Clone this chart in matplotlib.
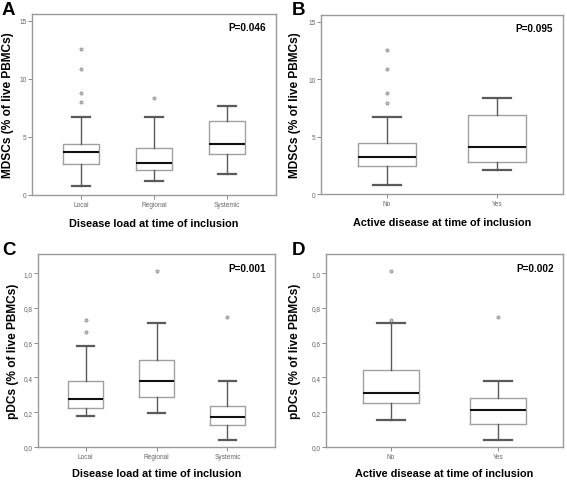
import matplotlib
matplotlib.use("Agg")
import matplotlib.pyplot as plt
from matplotlib import font_manager
from matplotlib.ticker import FuncFormatter

plt.rcParams['font.family'] = ['Liberation Sans', 'DejaVu Sans']

# valeurs (min, Q1, mediane, Q3, max, outliers)
load_groups = ["Local", "Regional", "Systemic"]
active_groups = ["No", "Yes"]

mdsc_load_whislo = [0.77, 1.17, 1.80]
mdsc_load_q1 = [2.66, 2.17, 3.54]
mdsc_load_med = [3.71, 2.77, 4.37]
mdsc_load_q3 = [4.43, 4.06, 6.34]
mdsc_load_whishi = [6.69, 6.71, 7.66]
mdsc_load_fliers = [[8.0, 8.77, 10.89, 12.6], [8.4], []]

mdsc_active_whislo = [0.78, 2.08]
mdsc_active_q1 = [2.42, 2.83]
mdsc_active_med = [3.20, 4.13]
mdsc_active_q3 = [4.41, 6.89]
mdsc_active_whishi = [6.69, 8.39]
mdsc_active_fliers = [[7.96, 8.77, 10.87, 12.55], []]

pdc_load_whislo = [0.180, 0.197, 0.038]
pdc_load_q1 = [0.222, 0.287, 0.126]
pdc_load_med = [0.277, 0.379, 0.172]
pdc_load_q3 = [0.379, 0.503, 0.235]
pdc_load_whishi = [0.583, 0.711, 0.379]
pdc_load_fliers = [[0.662, 0.730], [1.01], [0.75]]

pdc_active_whislo = [0.155, 0.038]
pdc_active_q1 = [0.252, 0.132]
pdc_active_med = [0.310, 0.212]
pdc_active_q3 = [0.440, 0.279]
pdc_active_whishi = [0.711, 0.379]
pdc_active_fliers = [[0.730, 1.01], [0.75]]

p_values = ["P=0.046", "P=0.095", "P=0.001", "P=0.002"]
xlabel_load = "Disease load at time of inclusion"
xlabel_active = "Active disease at time of inclusion"
ylabel_mdsc = "MDSCs (% of live PBMCs)"
ylabel_pdc = "pDCs (% of live PBMCs)"

# l'image d'origine est etiree verticalement : police etroite pour les titres x
font_names = {f.name for f in font_manager.fontManager.ttflist}
if 'Liberation Sans Narrow' in font_names:
    xlab_family, xlab_size = 'Liberation Sans Narrow', 9.4
else:
    xlab_family, xlab_size = 'Liberation Sans', 7.8

W, H = 567, 481
fig = plt.figure(figsize=(W / 100, H / 100), dpi=100)


def make_ax(left, top, right, bottom):
    return fig.add_axes([left / W, 1 - bottom / H, (right - left) / W, (bottom - top) / H])


def stats(labels, lo, q1, med, q3, hi, fl):
    out = []
    for i in range(len(labels)):
        out.append(dict(label=labels[i], whislo=lo[i], q1=q1[i], med=med[i],
                        q3=q3[i], whishi=hi[i], fliers=fl[i]))
    return out


def panel(ax, st, xlim, ylim, yticks, fmt, width, xlabel, ylabel, ptext,
          letter, letter_xy, ylab_x, xlab_y):
    ax.bxp(st, widths=width, showfliers=True,
           boxprops=dict(color='#a0a0a0', lw=1.0),
           medianprops=dict(color='#111111', lw=1.5),
           whiskerprops=dict(color='#5a5a5a', lw=1.0),
           capprops=dict(color='#5a5a5a', lw=1.6),
           flierprops=dict(marker='o', markersize=2.2, markerfacecolor='#c8c8c8',
                           markeredgecolor='#8c8c8c', markeredgewidth=0.6))
    ax.set_xlim(*xlim)
    ax.set_ylim(*ylim)
    ax.set_yticks(yticks)
    ax.yaxis.set_major_formatter(FuncFormatter(fmt))
    for s in ax.spines.values():
        s.set_color('#9a9a9a')
        s.set_linewidth(1.0)
    ax.tick_params(axis='both', labelsize=4.7, labelcolor='#666666', color='#777777',
                   length=3, width=0.6, pad=1)
    bb = ax.get_position()
    # position des titres d'axes en pixels
    ax.set_xlabel(xlabel, fontsize=xlab_size, fontweight='bold', va='center',
                  family=[xlab_family, 'DejaVu Sans'])
    ax.xaxis.set_label_coords(0.5, -(xlab_y / H) / bb.height)
    ax.set_ylabel(ylabel, fontsize=8.6, fontweight='bold', va='center')
    ax.yaxis.set_label_coords(-(ylab_x / W) / bb.width, 0.5)
    ax.text(0.96, 0.93, ptext, transform=ax.transAxes, ha='right', va='center',
            fontsize=7.2, fontweight='bold')
    fig.text(letter_xy[0] / W, 1 - letter_xy[1] / H, letter, fontsize=13.5,
             fontweight='bold', ha='left', va='baseline')


int_fmt = lambda v, p: "%d" % v
comma_fmt = lambda v, p: ("%.1f" % v).replace('.', ',')

axA = make_ax(32, 15, 276, 196)
panel(axA, stats(load_groups, mdsc_load_whislo, mdsc_load_q1, mdsc_load_med, mdsc_load_q3,
                 mdsc_load_whishi, mdsc_load_fliers),
      (0.33, 3.67), (0, 15.6), [0, 5, 10, 15], int_fmt, 0.5,
      xlabel_load, ylabel_mdsc, p_values[0], "A", (2, 15), 24, 28)

axB = make_ax(321, 16, 563, 195)
panel(axB, stats(active_groups, mdsc_active_whislo, mdsc_active_q1, mdsc_active_med,
                 mdsc_active_q3, mdsc_active_whishi, mdsc_active_fliers),
      (0.4, 2.6), (0, 15.6), [0, 5, 10, 15], int_fmt, 0.52,
      xlabel_active, ylabel_mdsc, p_values[1], "B", (292, 15), 26, 28)

axC = make_ax(38, 255, 275, 448)
panel(axC, stats(load_groups, pdc_load_whislo, pdc_load_q1, pdc_load_med, pdc_load_q3,
                 pdc_load_whishi, pdc_load_fliers),
      (0.33, 3.67), (0, 1.11), [0, 0.2, 0.4, 0.6, 0.8, 1.0], comma_fmt, 0.5,
      xlabel_load, ylabel_pdc, p_values[2], "C", (2, 255), 25, 26)

axD = make_ax(326, 255, 563, 448)
panel(axD, stats(active_groups, pdc_active_whislo, pdc_active_q1, pdc_active_med,
                 pdc_active_q3, pdc_active_whishi, pdc_active_fliers),
      (0.4, 2.6), (0, 1.11), [0, 0.2, 0.4, 0.6, 0.8, 1.0], comma_fmt, 0.52,
      xlabel_active, ylabel_pdc, p_values[3], "D", (292, 255), 31, 26)

fig.savefig("out.png", dpi=100)
